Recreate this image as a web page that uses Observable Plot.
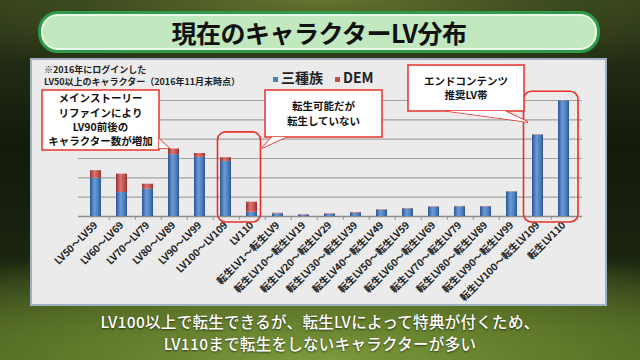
<!DOCTYPE html>
<html><head><meta charset="utf-8">
<script src="https://cdn.jsdelivr.net/npm/d3@7"></script>
<script src="https://cdn.jsdelivr.net/npm/@observablehq/plot@0.6"></script>
<style>
html,body{margin:0;padding:0;}
body{width:640px;height:360px;overflow:hidden;position:relative;font-family:"Noto Sans CJK JP","Noto Sans",sans-serif;
background:
 radial-gradient(ellipse 75% 22% at 50% 0%, #66752f 0%, rgba(70,85,35,0.6) 50%, rgba(0,0,0,0) 100%),
 radial-gradient(ellipse 90% 32% at 50% 100%, #7c9a3c 0%, #5c7428 50%, rgba(0,0,0,0) 100%),
 linear-gradient(#2e3a1a, #121a0c 40%, #1a2410 70%, #485e22);}
#title{position:absolute;left:38px;top:11px;width:556px;height:36px;border-radius:20px;background:#c2e8c0;border:3px solid #2e9a4a;box-shadow:inset 0 0 0 2px #e8f8e8;
 text-align:center;line-height:36px;font-size:25px;font-weight:bold;color:#111;letter-spacing:-0.5px;}
#panel{position:absolute;left:30px;top:58px;width:573px;height:244px;background:#ebebec;border:2px solid #9fb0bf;}
#plot{position:absolute;left:0;top:0;}
.note{position:absolute;left:12px;font-size:9px;font-weight:bold;line-height:12px;height:12px;color:#222;white-space:nowrap;}
#legend{position:absolute;left:241px;top:7px;font-size:14px;font-weight:bold;color:#222;white-space:nowrap;}
#legend span.sw{display:inline-block;width:5px;height:5px;margin-right:3px;vertical-align:middle;}
.cap{position:absolute;left:0;width:640px;text-align:center;color:#fff;font-size:15.5px;font-weight:500;line-height:22px;height:22px;letter-spacing:0.3px;text-shadow:0 1px 2px rgba(0,0,0,0.6);white-space:nowrap;}
</style></head>
<body>
<div id="title">現在のキャラクターLV分布</div>
<div id="panel">
  <div id="plot"></div>
  <div class="note" style="top:4px">※2016年にログインした</div>
  <div class="note" style="top:16px">LV50以上のキャラクター（2016年11月末時点）</div>
  <div id="legend"></div>
</div>
<div class="cap" style="top:309.5px">LV100以上で転生できるが、転生LVによって特典が付くため、</div>
<div class="cap" style="top:332px">LV110まで転生をしないキャラクターが多い</div>
<script>
const categories = ["LV50～LV59","LV60～LV69","LV70～LV79","LV80～LV89","LV90～LV99","LV100～LV109","LV110",
 "転生LV1～転生LV9","転生LV10～転生LV19","転生LV20～転生LV29","転生LV30～転生LV39","転生LV40～転生LV49",
 "転生LV50～転生LV59","転生LV60～転生LV69","転生LV70～転生LV79","転生LV80～転生LV89","転生LV90～転生LV99",
 "転生LV100～転生LV109","転生LV110"];
const seriesNames = ["三種族","DEM"];
const sanshuzoku = [19.8,12.4,14.1,32.0,30.6,28.5,2.2,1.4,0.6,1.1,1.8,3.3,3.9,4.8,5.0,5.0,12.6,42.1,59.8];
const dem = [3.9,9.5,2.6,2.9,2.0,1.9,5.2,0.3,0.3,0.3,0.3,0.2,0.2,0.2,0.2,0.2,0.2,0.2,0.1];
const seriesColors = ["#4a7ebd","#c0504d"];
const gridTicks = [10,20,30,40,50,60];

const rows = [];
categories.forEach((c,i)=>rows.push({cat:c, series:seriesNames[0], value:sanshuzoku[i]}));
categories.forEach((c,i)=>rows.push({cat:c, series:seriesNames[1], value:dem[i]}));

const W = 573, ML = 46, MR = 23;
const stepPx = (W - ML - MR) / categories.length;

const chart = Plot.plot({
  width: W, height: 244,
  marginLeft: ML, marginRight: MR, marginTop: 40, marginBottom: 88,
  style: {fontFamily: '"Noto Sans CJK JP", sans-serif', background: "transparent", overflow: "visible"},
  x: {domain: categories, paddingInner: 0.57, paddingOuter: 0.285, label: null},
  y: {domain: [0,60], axis: null},
  color: {domain: seriesNames, range: ["url(#gBlue)","url(#gRed)"]},
  marks: [
    Plot.ruleY(gridTicks, {stroke: "#a3a3a3", strokeWidth: 1.2}),
    Plot.ruleY([0], {stroke: "#8c8c8c", strokeWidth: 1.5}),
    Plot.ruleX(categories, {x: d => d, y1: 0, y2: -2, dx: stepPx/2, stroke: "#8c8c8c"}),
    Plot.barY(rows, {x: "cat", y: "value", fill: "series"}),
    Plot.axisX({tickRotate: -45, tickSize: 0, tickPadding: 7, fontSize: 10, fontWeight: "bold", fill: "#222"})
  ]
});
document.getElementById("plot").appendChild(chart);

const svg = d3.select(chart);
const defs = svg.insert("defs", ":first-child");
function grad(id, dark, mid, light){
  const g = defs.append("linearGradient").attr("id", id).attr("x1","0").attr("x2","1").attr("y1","0").attr("y2","0");
  g.append("stop").attr("offset","0%").attr("stop-color", dark);
  g.append("stop").attr("offset","40%").attr("stop-color", light);
  g.append("stop").attr("offset","75%").attr("stop-color", mid);
  g.append("stop").attr("offset","100%").attr("stop-color", dark);
}
grad("gBlue", "#2c5590", seriesColors[0], "#6b9bd6");
grad("gRed", "#93332f", seriesColors[1], "#dc7470");

// legend
const lg = d3.select("#legend");
seriesNames.forEach((s,i)=>{
  const it = lg.append("span").style("margin-right", i===0 ? "12px" : "0");
  it.append("span").attr("class","sw").style("background", seriesColors[i]);
  it.append("span").text(s);
});

// annotations (positions derived from the plot's scales)
const xs = chart.scale("x"), ys = chart.scale("y");
const bw = xs.bandwidth, step = xs.step;
const ox = 30, oy = 58; // panel offset in page
const ann = svg.append("g");
const red = "#e8302a";
function roundRect(c1, c2, topVal, padL, padR){
  const x1 = xs.apply(c1) - (step-bw)/2 + padL;
  const x2 = xs.apply(c2) + bw + (step-bw)/2 + padR;
  const y1 = ys.apply(topVal), y2 = ys.apply(0) + 6;
  ann.append("rect").attr("x",x1).attr("y",y1).attr("width",x2-x1).attr("height",y2-y1)
    .attr("rx",8).attr("fill","none").attr("stroke",red).attr("stroke-width",1.6);
}
roundRect("LV100～LV109","LV110",43.5,5,-4);
roundRect("転生LV100～転生LV109","転生LV110",64.5,-1,1.5);

function callout(box, wedge, lines, fs, lh){
  const [x1,y1,x2,y2] = box.map((v,i)=> i%2===0 ? v-ox : v-oy);
  const g = ann.append("g");
  g.append("rect").attr("x",x1).attr("y",y1).attr("width",x2-x1).attr("height",y2-y1)
    .attr("fill","#fff").attr("stroke",red).attr("stroke-width",1.5);
  g.append("path").attr("d", "M"+wedge.map(p=>[p[0]-ox,p[1]-oy].join(",")).join("L"))
    .attr("fill","#fff").attr("stroke",red).attr("stroke-width",1.5);
  g.append("path").attr("d", "M"+wedge.map(p=>[p[0]-ox,p[1]-oy].join(",")).join("L")+"Z")
    .attr("fill","#fff").attr("stroke","none");
  const cx = (x1+x2)/2;
  const cy = (y1+y2)/2 - (lines.length-1)*lh/2;
  lines.forEach((t,i)=>g.append("text").attr("x",cx).attr("y",cy+i*lh).attr("dy","0.36em")
    .attr("text-anchor","middle").attr("font-size",fs).attr("font-weight","bold").attr("fill","#111").text(t));
}
callout([40,88,157,148], [[157,137],[167,146],[157,146]], ["メインストーリー","リファインにより","LV90前後の","キャラクター数が増加"], 10.5, 14.2);
callout([263,88,380,135], [[284,135],[260,146],[270,135]], ["転生可能だが","転生していない"], 10.5, 14.5);
callout([406,63,522,109], [[445,109],[526,120],[503,109]], ["エンドコンテンツ","推奨LV帯"], 10.5, 14.5);
</script>
</body></html>
